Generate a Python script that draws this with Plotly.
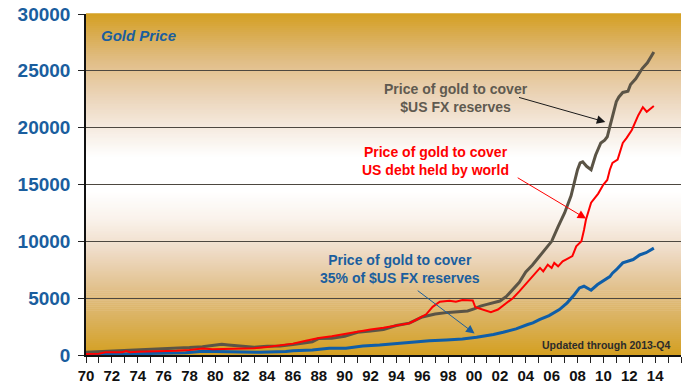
import plotly.graph_objects as go
import numpy as np

# Price of gold needed to cover all $US FX reserves
fx_years = [1970, 1971, 1972, 1973, 1974, 1975, 1976, 1977, 1978, 1979, 1980, 1980.5,
            1981, 1982, 1983, 1984, 1985, 1986, 1987, 1987.5, 1988, 1989, 1990, 1991,
            1992, 1993, 1994, 1995, 1996, 1997, 1998, 1999, 1999.5, 2000, 2000.5, 2001,
            2001.5, 2002, 2002.5, 2003, 2003.5, 2004, 2004.5, 2005, 2005.5, 2006, 2006.5,
            2007, 2007.5, 2007.8, 2008, 2008.2, 2008.4, 2008.7, 2009.05, 2009.4, 2009.8,
            2010.1, 2010.3, 2010.5, 2010.7, 2011.0, 2011.2, 2011.5, 2011.9, 2012.1, 2012.5,
            2012.8, 2013.0, 2013.4, 2013.9]
fx_price = [250, 300, 350, 400, 420, 450, 500, 580, 650, 730, 850, 940,
            880, 780, 680, 760, 800, 920, 1100, 1170, 1450, 1480, 1650, 2000,
            2100, 2250, 2600, 2800, 3350, 3600, 3750, 3800, 3880, 4050, 4300, 4450,
            4600, 4750, 5150, 5750, 6400, 7300, 7900, 8600, 9350, 10000, 11300,
            12500, 14000, 15400, 16300, 16900, 17000, 16600, 16300, 17600, 18650,
            18900, 19200, 20100, 21000, 22300, 22700, 23100, 23200, 23800, 24300,
            24850, 25200, 25700, 26650]

# Price of gold needed to cover US debt held by the rest of the world
debt_years = [1970, 1971, 1971.5, 1972, 1972.8, 1973.1, 1973.4, 1974, 1975, 1976, 1977,
              1978, 1979, 1979.8, 1981, 1982, 1983, 1984, 1985, 1986, 1987, 1988, 1989,
              1990, 1991, 1992, 1993, 1994, 1995, 1995.5, 1996.3, 1996.8, 1997.35,
              1998.1, 1998.6, 1999.1, 1999.9, 2000.1, 2000.7, 2001.3, 2001.85, 2002.5,
              2003.0, 2003.5, 2004.2, 2004.7, 2005.1, 2005.35, 2005.7, 2006.0, 2006.2,
              2006.5, 2006.85, 2007.1, 2007.6, 2007.9, 2008.3, 2008.5, 2008.65, 2009.05,
              2009.6, 2010.0, 2010.3, 2010.5, 2010.7, 2011.1, 2011.5, 2011.8, 2012.2,
              2012.7, 2013.05, 2013.35, 2013.9]
debt_price = [90, 120, 240, 240, 240, 350, 250, 280, 300, 330, 380,
              450, 580, 500, 520, 550, 600, 700, 850, 1000, 1250, 1500, 1650,
              1850, 2100, 2250, 2400, 2600, 2800, 3080, 3580, 4240, 4680,
              4770, 4680, 4830, 4800, 4200, 4000, 3760, 4000, 4590,
              5000, 5600, 6500, 7070, 7660, 7360, 7950, 7660, 8100,
              7800, 8240, 8400, 8700, 9560, 10000, 11000, 11900, 13400,
              14200, 15000, 15400, 16300, 16900, 17200, 18650, 19100, 19800,
              21100, 21800, 21400, 21900]

# Price of gold needed to cover 35% of $US FX reserves
fx35_years = [1970, 1972, 1975, 1977.7, 1979, 1980.8, 1983.4, 1985.45, 1986, 1987.5,
              1988.8, 1990.1, 1991.4, 1992.7, 1994, 1995.25, 1996.55, 1997.85, 1999.1,
              2000.2, 2000.7, 2001.5, 2002.25, 2003.25, 2004.15, 2004.55, 2005.05,
              2005.8, 2006.6, 2007.2, 2007.75, 2008.15, 2008.5, 2009.05, 2009.55,
              2009.95, 2010.5, 2010.7, 2011.0, 2011.5, 2012.3, 2012.8, 2013.3, 2013.9]
fx35_price = [20, 80, 150, 200, 320, 300, 240, 300, 380, 440,
              590, 600, 790, 880, 1030, 1170, 1260, 1330, 1410,
              1560, 1650, 1800, 2000, 2300, 2680, 2830, 3120,
              3470, 4000, 4590, 5300, 5900, 6050, 5700, 6200,
              6500, 6900, 7200, 7500, 8100, 8400, 8800, 9000, 9400]

tick_years = list(range(1970, 2015, 2))
tick_text = [f"{y % 100:02d}" for y in tick_years]
minor_years = list(range(1970, 2017))
y_ticks = list(range(0, 30001, 5000))

FONT = "Liberation Sans, Arial, sans-serif"
GOLD_GREY = "#5b5446"
RED = "#ff0000"
BLUE = "#1a5e9e"

fig = go.Figure()
fig.add_trace(go.Scatter(x=fx_years, y=fx_price, mode="lines",
                         line=dict(color=GOLD_GREY, width=3), hoverinfo="skip"))
fig.add_trace(go.Scatter(x=fx35_years, y=fx35_price, mode="lines",
                         line=dict(color="#0f5ea8", width=3), hoverinfo="skip"))
fig.add_trace(go.Scatter(x=debt_years, y=debt_price, mode="lines",
                         line=dict(color=RED, width=2), hoverinfo="skip"))

# vertical gold -> white -> gold background built from thin bands
stops = [(0.00, (212, 160, 33)), (0.10, (218, 176, 90)), (0.20, (226, 194, 143)),
         (0.30, (238, 218, 196)), (0.40, (250, 243, 236)), (0.48, (255, 255, 255)),
         (0.58, (255, 255, 255)), (0.66, (246, 236, 226)), (0.76, (235, 212, 184)),
         (0.86, (225, 190, 135)), (0.94, (217, 172, 80)), (1.00, (213, 160, 33))]
sp = np.array([s[0] for s in stops])
sc = np.array([s[1] for s in stops], dtype=float)
n_bands = 170
shapes = []
for i in range(n_bands):
    y0 = i / n_bands
    y1 = (i + 1) / n_bands
    mid = (y0 + y1) / 2
    rgb = [int(round(np.interp(mid, sp, sc[:, k]))) for k in range(3)]
    shapes.append(dict(type="rect", xref="paper", yref="paper", x0=0, x1=1,
                       y0=y0, y1=y1 + 0.002, layer="below", line=dict(width=0),
                       fillcolor=f"rgb({rgb[0]},{rgb[1]},{rgb[2]})"))

annotations = [
    dict(x=1971.0, y=28150, xref="x", yref="y", text="<b><i>Gold Price</i></b>",
         showarrow=False, xanchor="left", yanchor="middle",
         font=dict(family=FONT, size=15, color=BLUE)),
    dict(x=1998.6, y=22600, xref="x", yref="y",
         text="<b>Price of gold to cover<br>$US FX reserves</b>",
         showarrow=False, xanchor="center", yanchor="middle",
         font=dict(family=FONT, size=14, color="#5f5a50")),
    dict(x=1997.0, y=17050, xref="x", yref="y",
         text="<b>Price of gold to cover<br>US debt held by world</b>",
         showarrow=False, xanchor="center", yanchor="middle",
         font=dict(family=FONT, size=14, color=RED)),
    dict(x=1994.25, y=7600, xref="x", yref="y",
         text="<b>Price of gold to cover<br>35% of $US FX reserves</b>",
         showarrow=False, xanchor="center", yanchor="middle",
         font=dict(family=FONT, size=14, color=BLUE)),
    dict(x=2015.35, y=880, xref="x", yref="y", text="<b>Updated through 2013-Q4</b>",
         showarrow=False, xanchor="right", yanchor="middle",
         font=dict(family=FONT, size=10.5, color="#2b2b2b")),
    # pointer arrows
    dict(x=2010.15, y=20500, ax=2003.36, ay=22700, xref="x", yref="y",
         axref="x", ayref="y", text="", showarrow=True, arrowhead=2,
         arrowsize=1.7, arrowwidth=1, arrowcolor="#1a1a1a"),
    dict(x=2008.66, y=12000, ax=2003.26, ay=15670, xref="x", yref="y",
         axref="x", ayref="y", text="", showarrow=True, arrowhead=2,
         arrowsize=1.7, arrowwidth=1, arrowcolor=RED),
    dict(x=2000.04, y=1890, ax=1995.53, ay=5760, xref="x", yref="y",
         axref="x", ayref="y", text="", showarrow=True, arrowhead=2,
         arrowsize=1.7, arrowwidth=1, arrowcolor=BLUE),
]

fig.update_layout(
    width=685, height=388,
    margin=dict(l=86, r=4, t=14, b=33),
    paper_bgcolor="white",
    plot_bgcolor="rgba(0,0,0,0)",
    showlegend=False,
    shapes=shapes,
    annotations=annotations,
    xaxis=dict(range=[1970, 2016], tickmode="array", tickvals=tick_years,
               ticktext=[f"<b>{t}</b>" for t in tick_text], ticks="outside",
               ticklen=6, tickwidth=1, tickcolor="#222222", showgrid=False,
               zeroline=False, showline=True, linecolor="#111111", linewidth=1.5,
               tickfont=dict(family=FONT, size=15, color="#111111"),
               minor=dict(tickmode="array", tickvals=minor_years, ticks="outside",
                          ticklen=6, tickwidth=1, tickcolor="#222222", showgrid=False)),
    yaxis=dict(range=[0, 30000], tickmode="array", tickvals=y_ticks,
               ticktext=[f"<b>{v}</b>" for v in y_ticks], ticks="outside",
               ticklen=6, tickwidth=1, tickcolor="#222222",
               showgrid=True, gridcolor="#4d4840", gridwidth=1.2, zeroline=False,
               showline=True, linecolor="#111111", linewidth=1.5,
               ticklabelstandoff=4,
               tickfont=dict(family=FONT, size=19, color=BLUE)),
)

fig.write_html("out.html")
